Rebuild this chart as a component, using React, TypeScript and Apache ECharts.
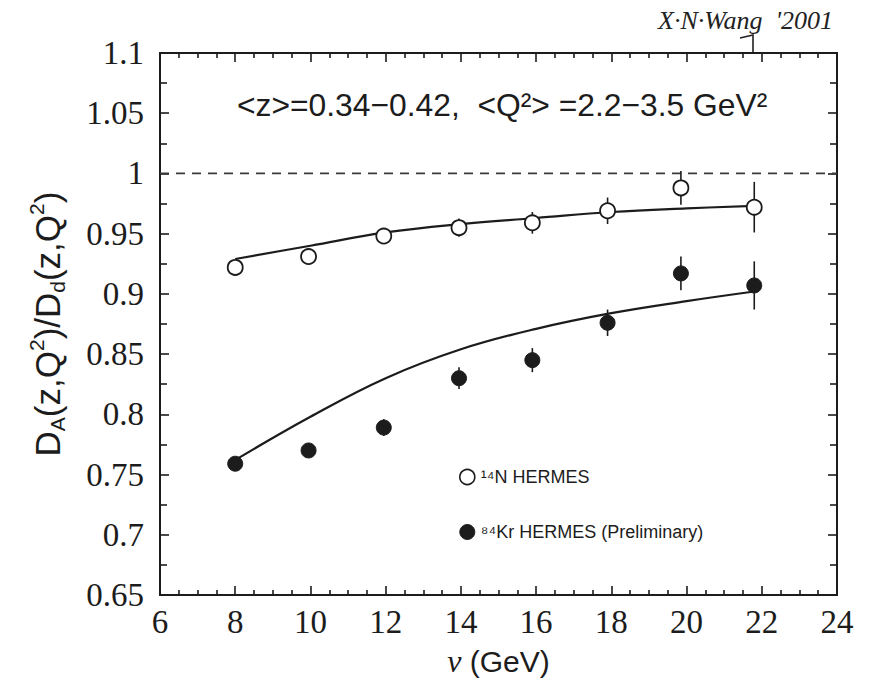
import React, { useEffect, useRef } from "react";
import * as echarts from "echarts";

// measured points (nu in GeV)
const nuN = [8.0, 9.95, 11.95, 13.95, 15.9, 17.9, 19.85, 21.8];
const ratioN = [0.922, 0.931, 0.948, 0.955, 0.959, 0.969, 0.988, 0.972];
const errN = [0.004, 0.005, 0.006, 0.0075, 0.009, 0.011, 0.014, 0.021];

const nuKr = [8.0, 9.95, 11.95, 13.95, 15.9, 17.9, 19.85, 21.8];
const ratioKr = [0.759, 0.77, 0.789, 0.83, 0.845, 0.876, 0.917, 0.907];
const errKr = [0.005, 0.005, 0.007, 0.009, 0.01, 0.011, 0.014, 0.02];

// theory curves
const thNuN = [8.0, 10, 12, 14, 16, 18, 20, 21.8];
const thN = [0.929, 0.94, 0.951, 0.958, 0.963, 0.968, 0.971, 0.973];
const thNuKr = [8.05, 10, 12, 14, 16, 18, 20, 21.8];
const thKr = [0.763, 0.798, 0.83, 0.854, 0.871, 0.884, 0.894, 0.902];

const refNu = [6, 24];
const refVal = [1, 1];

const nameN = "¹⁴N HERMES";
const nameKr = "⁸⁴Kr HERMES (Preliminary)";

const INK = "#1c1c1c";
const SERIF = '"Liberation Serif", "DejaVu Serif", serif';
const SANS = '"Liberation Sans", Arial, sans-serif';

function errBars(nu: number[], v: number[], e: number[]) {
  return nu.map((x, i) => [x, v[i] - e[i], v[i] + e[i]]);
}

const renderErr = (params: any, api: any) => {
  const p1 = api.coord([api.value(0), api.value(1)]);
  const p2 = api.coord([api.value(0), api.value(2)]);
  return {
    type: "line",
    shape: { x1: p1[0], y1: p1[1], x2: p2[0], y2: p2[1] },
    style: { stroke: INK, lineWidth: 1.6 },
  };
};

export default function App() {
  const ref = useRef<HTMLDivElement>(null);
  useEffect(() => {
    if (!ref.current) return;
    const chart = echarts.init(ref.current, null, { renderer: "svg" });
    const tickStyle = { lineStyle: { color: INK, width: 1.6 } };
    const option: any = {
      animation: false,
      backgroundColor: "#ffffff",
      grid: { left: 160, right: 34, top: 53, bottom: 93 },
      legend: {
        orient: "vertical",
        left: 454,
        top: 463,
        itemWidth: 15,
        itemHeight: 15,
        itemGap: 37,
        icon: "circle",
        textStyle: { fontFamily: SANS, fontSize: 18, color: INK, padding: [0, 0, 0, 1] },
        data: [
          { name: nameN, itemStyle: { color: "#ffffff", borderColor: INK, borderWidth: 1.6 } },
          { name: nameKr, itemStyle: { color: INK, borderColor: INK, borderWidth: 1 } },
        ],
      },
      xAxis: [
        {
          type: "value",
          min: 6,
          max: 24,
          interval: 2,
          position: "bottom",
          name: "{nu|ν}{g| (GeV)}",
          nameLocation: "middle",
          nameGap: 50,
          nameTextStyle: {
            rich: {
              nu: { fontFamily: SERIF, fontStyle: "italic", fontSize: 32, color: INK },
              g: { fontFamily: SANS, fontSize: 30, color: INK },
            },
          },
          axisLine: { show: true, lineStyle: { color: INK, width: 2 } },
          axisTick: { show: true, inside: true, length: 9, ...tickStyle },
          minorTick: { show: true, splitNumber: 4, length: 5, ...tickStyle },
          axisLabel: { fontFamily: SERIF, fontSize: 33, color: INK, margin: 10 },
          splitLine: { show: false },
        },
        {
          type: "value",
          min: 6,
          max: 24,
          interval: 2,
          position: "top",
          axisLine: { show: true, lineStyle: { color: INK, width: 2 } },
          axisTick: { show: true, inside: true, length: 9, ...tickStyle },
          minorTick: { show: true, splitNumber: 4, length: 5, ...tickStyle },
          axisLabel: { show: false },
          splitLine: { show: false },
        },
      ],
      yAxis: [
        {
          type: "value",
          min: 0.65,
          max: 1.1,
          interval: 0.05,
          position: "left",
          name: "{m|D}{sb|A}{m|(z,Q}{sp|2}{m|)/D}{sb|d}{m|(z,Q}{sp|2}{m|)}",
          nameLocation: "middle",
          nameRotate: 90,
          nameGap: 92,
          nameTextStyle: {
            rich: {
              m: { fontFamily: SANS, fontSize: 35, color: INK, lineHeight: 42 },
              sb: { fontFamily: SANS, fontSize: 21, color: INK, lineHeight: 21, verticalAlign: "bottom" },
              sp: { fontFamily: SANS, fontSize: 21, color: INK, lineHeight: 24, verticalAlign: "top" },
            },
          },
          axisLine: { show: true, lineStyle: { color: INK, width: 2 } },
          axisTick: { show: true, inside: true, length: 9, ...tickStyle },
          minorTick: { show: true, splitNumber: 2, length: 7, ...tickStyle },
          axisLabel: { fontFamily: SERIF, fontSize: 33, color: INK, margin: 16 },
          splitLine: { show: false },
        },
        {
          type: "value",
          min: 0.65,
          max: 1.1,
          interval: 0.05,
          position: "right",
          axisLine: { show: true, lineStyle: { color: INK, width: 2 } },
          axisTick: { show: true, inside: true, length: 9, ...tickStyle },
          minorTick: { show: true, splitNumber: 2, length: 7, ...tickStyle },
          axisLabel: { show: false },
          splitLine: { show: false },
        },
      ],
      graphic: [
        {
          type: "text",
          left: 237,
          top: 89,
          style: {
            text: "<z>=0.34−0.42,  <Q²> =2.2−3.5 GeV²",
            font: `31.8px ${SANS}`,
            fill: INK,
          },
        },
        {
          type: "text",
          left: 658,
          top: 7,
          style: {
            text: "X·N·Wang  '2001",
            font: `italic 26px ${SERIF}`,
            fill: "#222",
          },
        },
        {
          type: "polyline",
          shape: { points: [[740, 38], [753, 35], [753, 52]] },
          style: { stroke: "#222", lineWidth: 1.6, fill: "none" },
        },
      ],
      series: [
        {
          name: "ref",
          type: "line",
          xAxisIndex: 0,
          yAxisIndex: 0,
          data: refNu.map((x, i) => [x, refVal[i]]),
          symbol: "none",
          lineStyle: { color: "#3a3a3a", width: 1.8, type: [9, 7] },
          silent: true,
          z: 1,
        },
        {
          name: "thN",
          type: "line",
          data: thNuN.map((x, i) => [x, thN[i]]),
          smooth: 0.4,
          symbol: "none",
          lineStyle: { color: INK, width: 2.2 },
          z: 2,
        },
        {
          name: "thKr",
          type: "line",
          data: thNuKr.map((x, i) => [x, thKr[i]]),
          smooth: 0.4,
          symbol: "none",
          lineStyle: { color: INK, width: 2.2 },
          z: 2,
        },
        {
          name: "errN",
          type: "custom",
          renderItem: renderErr,
          encode: { x: 0, y: [1, 2] },
          data: errBars(nuN, ratioN, errN),
          z: 3,
        },
        {
          name: "errKr",
          type: "custom",
          renderItem: renderErr,
          encode: { x: 0, y: [1, 2] },
          data: errBars(nuKr, ratioKr, errKr),
          z: 3,
        },
        {
          name: nameN,
          type: "scatter",
          data: nuN.map((x, i) => [x, ratioN[i]]),
          symbol: "circle",
          symbolSize: 15,
          itemStyle: { color: "#ffffff", borderColor: INK, borderWidth: 1.8, opacity: 1 },
          z: 4,
        },
        {
          name: nameKr,
          type: "scatter",
          data: nuKr.map((x, i) => [x, ratioKr[i]]),
          symbol: "circle",
          symbolSize: 15,
          itemStyle: { color: INK, borderColor: INK, borderWidth: 1, opacity: 1 },
          z: 4,
        },
      ],
    };
    chart.setOption(option);
    return () => chart.dispose();
  }, []);
  return (
    <div
      ref={ref}
      style={{ position: "fixed", left: 0, top: 0, width: 871, height: 688, background: "#fff" }}
    />
  );
}
